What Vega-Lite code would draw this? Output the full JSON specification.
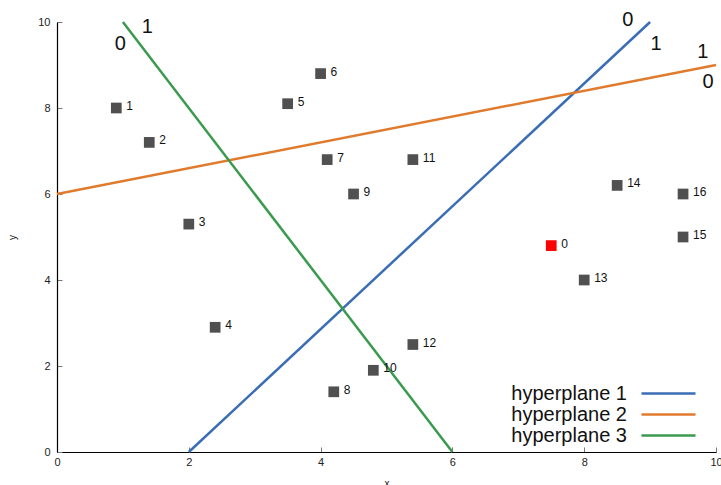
{
  "$schema": "https://vega.github.io/schema/vega-lite/v6.json",
  "width": 659,
  "height": 430,
  "autosize": "none",
  "padding": {"left": 57, "top": 22, "right": 5, "bottom": 33},
  "background": "white",
  "config": {
    "font": "Liberation Sans",
    "view": {"stroke": null},
    "axis": {"grid": false, "domainColor": "black", "domainWidth": 1.2, "tickColor": "#777", "tickSize": -5, "labelFontSize": 11, "labelColor": "#222", "labelFlush": false, "format": "d", "titleFontSize": 10, "titleFontWeight": "normal", "titleColor": "#222"}
  },
  "datasets": {
    "points": [
      {"id": "0", "x": 7.5, "y": 4.8, "kind": "query"},
      {"id": "1", "x": 0.9, "y": 8.0, "kind": "data"},
      {"id": "2", "x": 1.4, "y": 7.2, "kind": "data"},
      {"id": "3", "x": 2.0, "y": 5.3, "kind": "data"},
      {"id": "4", "x": 2.4, "y": 2.9, "kind": "data"},
      {"id": "5", "x": 3.5, "y": 8.1, "kind": "data"},
      {"id": "6", "x": 4.0, "y": 8.8, "kind": "data"},
      {"id": "7", "x": 4.1, "y": 6.8, "kind": "data"},
      {"id": "8", "x": 4.2, "y": 1.4, "kind": "data"},
      {"id": "9", "x": 4.5, "y": 6.0, "kind": "data"},
      {"id": "10", "x": 4.8, "y": 1.9, "kind": "data"},
      {"id": "11", "x": 5.4, "y": 6.8, "kind": "data"},
      {"id": "12", "x": 5.4, "y": 2.5, "kind": "data"},
      {"id": "13", "x": 8.0, "y": 4.0, "kind": "data"},
      {"id": "14", "x": 8.5, "y": 6.2, "kind": "data"},
      {"id": "15", "x": 9.5, "y": 5.0, "kind": "data"},
      {"id": "16", "x": 9.5, "y": 6.0, "kind": "data"}
    ],
    "lines": [
      {"plane": "hyperplane 1", "x": 2, "y": 0},
      {"plane": "hyperplane 1", "x": 9, "y": 10},
      {"plane": "hyperplane 2", "x": 0, "y": 6},
      {"plane": "hyperplane 2", "x": 10, "y": 9},
      {"plane": "hyperplane 3", "x": 1, "y": 10},
      {"plane": "hyperplane 3", "x": 6, "y": 0}
    ],
    "sides": [
      {"label": "0", "x": 0.96, "y": 9.5},
      {"label": "1", "x": 1.37, "y": 9.88},
      {"label": "0", "x": 8.66, "y": 10.05},
      {"label": "1", "x": 9.09, "y": 9.5},
      {"label": "1", "x": 9.8, "y": 9.3},
      {"label": "0", "x": 9.88, "y": 8.6}
    ]
  },
  "layer": [
    {
      "data": {"name": "lines"},
      "mark": {"type": "line", "strokeWidth": 2.5, "clip": false},
      "encoding": {
        "x": {"field": "x", "type": "quantitative", "scale": {"domain": [0, 10], "nice": false}, "axis": {"values": [0, 2, 4, 6, 8, 10], "title": "x", "labelPadding": 9, "titlePadding": 11}},
        "y": {"field": "y", "type": "quantitative", "scale": {"domain": [0, 10], "nice": false}, "axis": {"values": [0, 2, 4, 6, 8, 10], "title": "y", "labelPadding": 12, "titlePadding": 20}},
        "color": {
          "field": "plane", "type": "nominal",
          "scale": {"domain": ["hyperplane 1", "hyperplane 2", "hyperplane 3"], "range": ["#3b6db5", "#e07b2e", "#3a9a4e"]},
          "legend": {
            "title": null, "orient": "none", "legendX": 601, "legendY": 361, "symbolType": "M-3,0H3", "symbolSize": 324, "symbolStrokeWidth": 2.5,
            "labelFontSize": 20, "labelAlign": "right", "labelOffset": -52, "labelColor": "#111", "rowPadding": -1.5, "padding": 0
          }
        },
        "detail": {"field": "plane"}
      }
    },
    {
      "data": {"name": "points"},
      "mark": {"type": "point", "shape": "square", "filled": true, "size": 115, "opacity": 1},
      "encoding": {
        "x": {"field": "x", "type": "quantitative"},
        "y": {"field": "y", "type": "quantitative"},
        "color": {"field": "kind", "type": "nominal", "scale": {"domain": ["query", "data"], "range": ["#ff0000", "#505050"]}, "legend": null}
      }
    },
    {
      "data": {"name": "points"},
      "mark": {"type": "text", "align": "left", "dx": 10, "dy": -2, "fontSize": 12, "color": "#111"},
      "encoding": {
        "x": {"field": "x", "type": "quantitative"},
        "y": {"field": "y", "type": "quantitative"},
        "text": {"field": "id"}
      }
    },
    {
      "data": {"name": "sides"},
      "mark": {"type": "text", "align": "center", "baseline": "middle", "fontSize": 20, "color": "#111"},
      "encoding": {
        "x": {"field": "x", "type": "quantitative"},
        "y": {"field": "y", "type": "quantitative"},
        "text": {"field": "label"}
      }
    }
  ],
  "resolve": {"scale": {"color": "independent"}}
}
